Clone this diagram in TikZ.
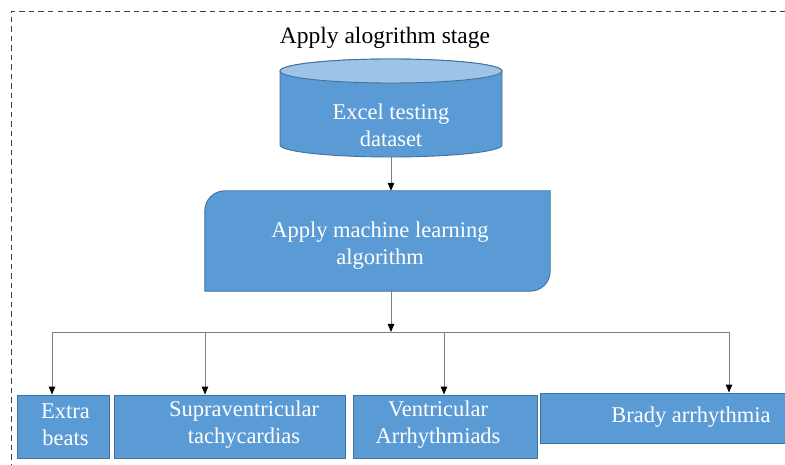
\documentclass[tikz,border=0pt]{standalone}
\usepackage{fontspec}
\setmainfont{Liberation Serif}
\usetikzlibrary{arrows.meta}
\definecolor{boxfill}{HTML}{5B9BD5}
\definecolor{boxline}{HTML}{41719C}
\definecolor{topfill}{HTML}{9DC3E6}
\definecolor{conn}{HTML}{7F7F7F}
\definecolor{frame}{HTML}{404040}
\tikzset{
  flowbox/.style={draw=boxline, fill=boxfill, line width=0.9pt, inner sep=0pt},
  boxtext/.style={text=white, font=\fontsize{22.5}{27}\selectfont, align=center, inner sep=0pt},
  conline/.style={draw=conn, line width=0.9pt},
  arr/.style={conline, -{Triangle[length=8pt,width=6.5pt,color=black]}},
}
\begin{document}
\begin{tikzpicture}[x=1pt,y=1pt]
\useasboundingbox (0,0) rectangle (785,464);
% frame
\draw[frame, line width=1pt, dash pattern=on 5.5pt off 4pt] (11,-5) -- (11,452) -- (800,452);
% title
\node[font=\fontsize{23.5}{28}\selectfont, inner sep=0pt] (title) at (385,426) {Apply alogrithm stage};
% cylinder
\draw[flowbox] (280,393) -- (280,319) arc[start angle=180,end angle=360,x radius=111,y radius=12] -- (502,393) arc[start angle=0,end angle=180,x radius=111,y radius=12] -- cycle;
\draw[flowbox, fill=topfill] (391,393) ellipse [x radius=111, y radius=12];
\node[boxtext] (db) at (391,339) {Excel testing\\dataset};
\coordinate (dbb) at (391,307);
% ML box
\node[minimum width=345pt, minimum height=100pt, inner sep=0pt] (ml) at (377.5,223) {};
\draw[flowbox] (ml.south west) -- ([yshift=-20pt]ml.north west) arc[start angle=180,end angle=90,radius=20] -- (ml.north east) -- ([yshift=20pt]ml.south east) arc[start angle=0,end angle=-90,radius=20] -- cycle;
\node[boxtext] (mlt) at (380,218) {Apply machine learning\\algorithm};
\draw[arr] (dbb) -- (dbb |- ml.north);
% bottom boxes
\node[flowbox, minimum width=92pt, minimum height=63pt] (eb) at (63,37.5) {};
\node[flowbox, minimum width=231pt, minimum height=63pt] (sv) at (229.5,37.5) {};
\node[flowbox, minimum width=184pt, minimum height=63pt] (vt) at (445,37.5) {};
\node[flowbox, minimum width=260pt, minimum height=50pt] (br) at (670,46) {};
\node[boxtext] (ebt) at (65.5,39.5) {Extra\\beats};
\node[boxtext] (svt) at (244,39.5) {Supraventricular\\tachycardias};
\node[boxtext] (vtt) at (438,39.5) {Ventricular\\Arrhythmiads};
\node[boxtext] (brt) at (691,47) {Brady arrhythmia};
% tree connectors
\coordinate (j) at (391,132);
\coordinate (j1) at (52,132);
\coordinate (j2) at (205,132);
\coordinate (j3) at (444,132);
\coordinate (j4) at (729,132);
\draw[arr] (ml.south -| dbb) -- (j);
\draw[conline] (j1) -- (j4);
\draw[arr] (j1) -- (j1 |- eb.north);
\draw[arr] (j2) -- (j2 |- sv.north);
\draw[arr] (j3) -- (j3 |- vt.north);
\draw[arr] (j4) -- (j4 |- br.north);
\end{tikzpicture}
\end{document}
